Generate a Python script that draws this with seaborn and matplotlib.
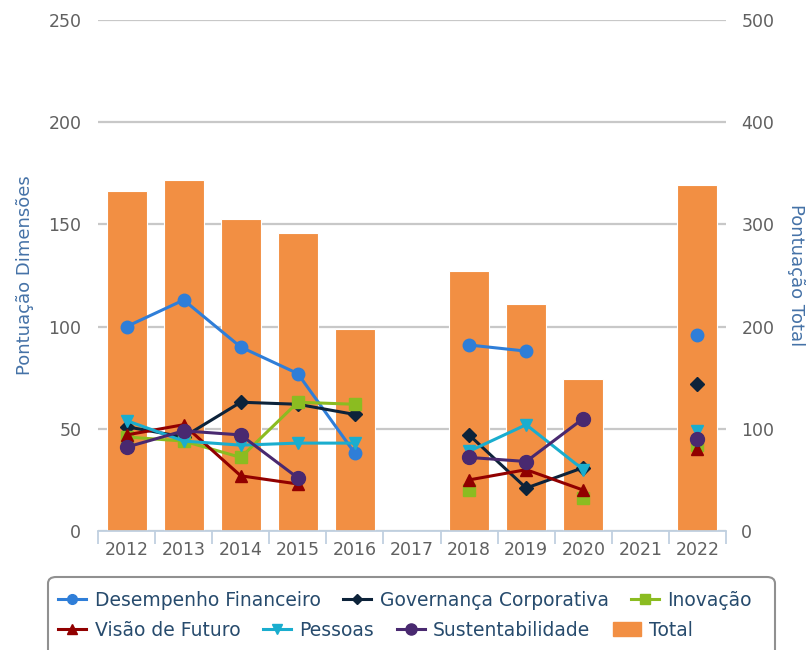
import numpy as np
import pandas as pd
import matplotlib
matplotlib.use('Agg')
import matplotlib.pyplot as plt
from matplotlib.lines import Line2D
from matplotlib.patches import Patch, FancyBboxPatch
import seaborn as sns

nan = np.nan
anos = ['2012', '2013', '2014', '2015', '2016', '2017', '2018', '2019', '2020', '2021', '2022']
total = [333, 343, 305, 292, 198, nan, 254, 222, 149, nan, 339]
desempenho = [100, 113, 90, 77, 38, nan, 91, 88, nan, nan, 96]
governanca = [51, 46, 63, 62, 57, nan, 47, 21, 31, nan, 72]
inovacao = [46, 44, 36, 63, 62, nan, 20, nan, 16, nan, 42]
visao = [47, 52, 27, 23, nan, nan, 25, 30, 20, nan, 40]
pessoas = [54, 44, 42, 43, 43, nan, 39, 52, 30, nan, 49]
sustentabilidade = [41, 49, 47, 26, nan, nan, 36, 34, 55, nan, 45]

series = [
    ('Desempenho Financeiro', desempenho, '#2f7ed8', 'o', 9),
    ('Governança Corporativa', governanca, '#0d233a', 'D', 7),
    ('Inovação', inovacao, '#8bbc21', 's', 9),
    ('Visão de Futuro', visao, '#910000', '^', 9),
    ('Pessoas', pessoas, '#1aadce', 'v', 9),
    ('Sustentabilidade', sustentabilidade, '#492970', 'o', 10),
]
cor_total = '#f28f43'
cinza = '#606060'
azul_titulo = '#4572a7'

df = pd.DataFrame({'ano': anos, 'total': total})

fig = plt.figure(figsize=(8.11, 6.5), dpi=100, facecolor='white')
ax = fig.add_axes([98 / 811, 1 - 531 / 650, 628 / 811, 511 / 650])
ax.set_facecolor('white')
ax2 = ax.twinx()

# barras (eixo da direita)
sns.barplot(data=df, x='ano', y='total', ax=ax, color=cor_total, saturation=1, width=0.7,
            edgecolor='white', linewidth=0.8, zorder=2)
ax.set_ylim(0, 500)
ax.set_xlim(-0.5, 10.5)
ax.set_yticks(range(0, 501, 100))
ax.yaxis.tick_right()
ax.yaxis.set_label_position('right')
ax.grid(axis='y', color='#c8c8c8', linewidth=1.6, zorder=0)
ax.set_axisbelow(True)
ax.set_xlabel('')
ax.set_ylabel('Pontuação Total', color=azul_titulo, fontsize=13, rotation=270, labelpad=22)
ax.tick_params(axis='y', length=0, labelsize=12.5, labelcolor=cinza, pad=11)
ax.tick_params(axis='x', which='major', length=0, labelsize=12.5, labelcolor=cinza, pad=7)
ax.set_xticks(np.arange(-0.5, 11, 1), minor=True)
ax.tick_params(axis='x', which='minor', length=9, width=1.3, color='#c0d0e0')
for s in ['top', 'right', 'left']:
    ax.spines[s].set_visible(False)
ax.spines['bottom'].set_color('#c0d0e0')
ax.spines['bottom'].set_linewidth(1.3)

# linhas (eixo da esquerda)
ax2.yaxis.tick_left()
ax2.yaxis.set_label_position('left')
for nome, vals, cor, mk, ms in series:
    ax2.plot(range(len(anos)), vals, color=cor, marker=mk, markersize=ms, linewidth=2.2, label=nome)
ax2.set_ylim(0, 250)
ax2.set_xlim(-0.5, 10.5)
ax2.set_yticks(range(0, 251, 50))
ax2.tick_params(axis='y', length=0, labelsize=12.5, labelcolor=cinza, pad=12)
ax2.set_ylabel('Pontuação Dimensões', color=azul_titulo, fontsize=13, labelpad=10)
for s in ['top', 'right', 'left', 'bottom']:
    ax2.spines[s].set_visible(False)

# legenda
caixa = FancyBboxPatch((48 / 811, -0.05), 727 / 811, 0.05 + (650 - 577) / 650,
                       boxstyle='round,pad=0,rounding_size=0.01', transform=fig.transFigure,
                       facecolor='white', edgecolor='#909090', linewidth=1.5, clip_on=False)
fig.patches.append(caixa)

handles = [Line2D([0], [0], color=cor, marker=mk, markersize=ms - 2, linewidth=2.2)
           for nome, vals, cor, mk, ms in series]
nomes = [s[0] for s in series]
kw = dict(frameon=False, fontsize=13.5, handlelength=1.5, handletextpad=0.45, columnspacing=1.2,
          labelcolor='#274b6d', borderaxespad=0, borderpad=0)
leg1 = fig.legend(handles[:3], nomes[:3], ncol=3, loc='center left',
                  bbox_to_anchor=(58 / 811, 1 - 600 / 650), **kw)
h2 = handles[3:] + [Patch(facecolor=cor_total, edgecolor=cor_total)]
leg2 = fig.legend(h2, nomes[3:] + ['Total'], ncol=4, loc='center left',
                  bbox_to_anchor=(58 / 811, 1 - 630 / 650), **kw)

plt.savefig('out.png', dpi=100)
